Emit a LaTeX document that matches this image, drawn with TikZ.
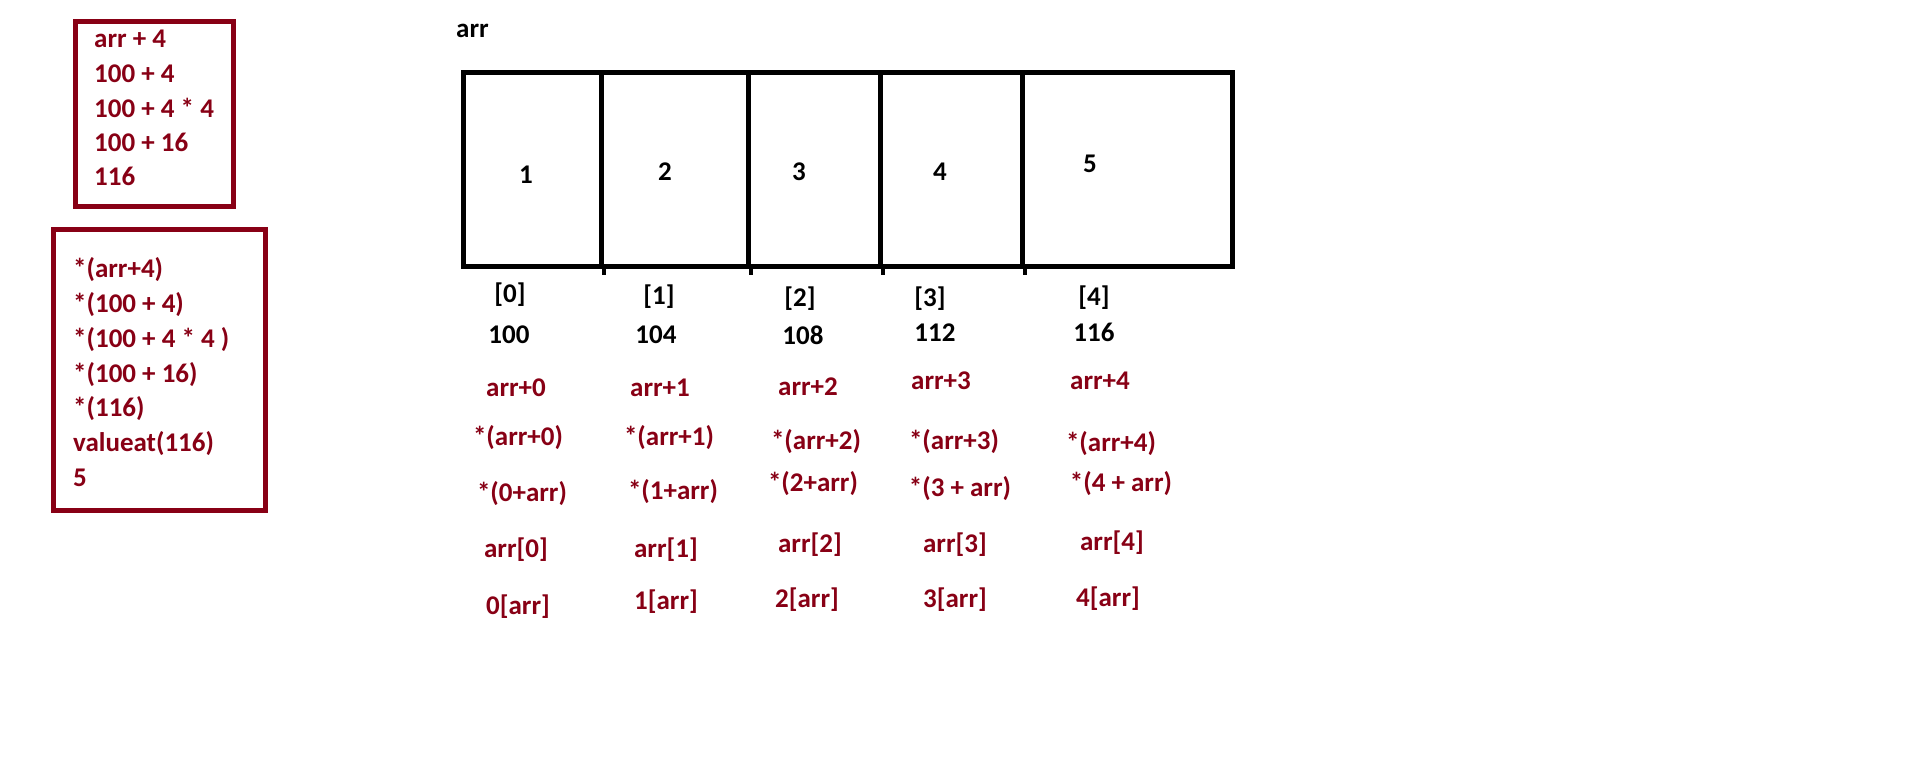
\documentclass[tikz,border=0pt]{standalone}
\usepackage{fontspec}
\setmainfont{Carlito}
\definecolor{paintred}{HTML}{880015}
\begin{document}
\begin{tikzpicture}[x=1pt,y=-1pt,
  lbl/.style={inner sep=0pt, anchor=base, font=\fontsize{27}{32}\selectfont\bfseries},
  blk/.style={lbl, text=black},
  rlbl/.style={lbl, text=paintred},
  rleft/.style={rlbl, anchor=base west},
  cell/.style={draw=black, line width=5pt, minimum height=194pt, inner sep=0pt},
  frame/.style={draw=paintred, line width=5pt, inner sep=0pt},
  tick/.style={draw=black, line width=4pt}
]
\useasboundingbox[fill=white] (0,0) rectangle (1910,772);

% left boxes
\node[frame, minimum width=158pt, minimum height=185pt] (f1) at (154.5,114) {};
\node[frame, minimum width=212pt, minimum height=281pt] (f2) at (159.5,370) {};

\node[rleft] (a1) at (94,47) {arr + 4};
\node[rleft] (a2) at (94,82) {100 + 4};
\node[rleft] (a3) at (94,117) {100 + 4 * 4};
\node[rleft] (a4) at (94,151) {100 + 16};
\node[rleft] (a5) at (94,185) {116};

\node[rleft] (b1) at (73,277) {*(arr+4)};
\node[rleft] (b2) at (73,312) {*(100 + 4)};
\node[rleft] (b3) at (73,347) {*(100 + 4 * 4 )};
\node[rleft] (b4) at (73,382) {*(100 + 16)};
\node[rleft] (b5) at (73,416) {*(116)};
\node[rleft] (b6) at (73,451) {valueat(116)};
\node[rleft] (b7) at (73,486) {5};

% array
\node[blk, anchor=base west] (arrname) at (456,37) {arr};
\node[cell, minimum width=137.5pt] (c0) at (532.25,169.5) {};
\node[cell, minimum width=147pt] (c1) at (674.5,169.5) {};
\node[cell, minimum width=132pt] (c2) at (814,169.5) {};
\node[cell, minimum width=142pt] (c3) at (951,169.5) {};
\node[cell, minimum width=210.5pt] (c4) at (1127.25,169.5) {};
\coordinate (t0) at ([yshift=-6pt]c0.south east);
\coordinate (t1) at ([yshift=-6pt]c1.south east);
\coordinate (t2) at ([yshift=-6pt]c2.south east);
\coordinate (t3) at ([yshift=-6pt]c3.south east);
\draw[tick] (c0.south east) -- (t0);
\draw[tick] (c1.south east) -- (t1);
\draw[tick] (c2.south east) -- (t2);
\draw[tick] (c3.south east) -- (t3);

\node[blk] (v0) at (526,183) {1};
\node[blk] (v1) at (665,180) {2};
\node[blk] (v2) at (799,180) {3};
\node[blk] (v3) at (940,180) {4};
\node[blk] (v4) at (1090,172) {5};

% indices
\node[blk] (i0) at (510,302) {[0]};
\node[blk] (i1) at (659,304) {[1]};
\node[blk] (i2) at (800,306) {[2]};
\node[blk] (i3) at (930,306) {[3]};
\node[blk] (i4) at (1094,305) {[4]};

% addresses
\node[blk] (d0) at (509,343) {100};
\node[blk] (d1) at (656,343) {104};
\node[blk] (d2) at (803,344) {108};
\node[blk] (d3) at (935,341) {112};
\node[blk] (d4) at (1094,341) {116};

% arr+k
\node[rlbl] (p0) at (516,396) {arr+0};
\node[rlbl] (p1) at (660,396) {arr+1};
\node[rlbl] (p2) at (808,395) {arr+2};
\node[rlbl] (p3) at (941,389) {arr+3};
\node[rlbl] (p4) at (1100,389) {arr+4};

% *(arr+k)
\node[rlbl] (q0) at (518,445) {*(arr+0)};
\node[rlbl] (q1) at (669,445) {*(arr+1)};
\node[rlbl] (q2) at (816,449) {*(arr+2)};
\node[rlbl] (q3) at (954,449) {*(arr+3)};
\node[rlbl] (q4) at (1111,451) {*(arr+4)};

% *(k+arr)
\node[rlbl] (r0) at (522,501) {*(0+arr)};
\node[rlbl] (r1) at (673,499) {*(1+arr)};
\node[rlbl] (r2) at (813,491) {*(2+arr)};
\node[rlbl] (r3) at (960,496) {*(3 + arr)};
\node[rlbl] (r4) at (1121,491) {*(4 + arr)};

% arr[k]
\node[rlbl] (s0) at (516,557) {arr[0]};
\node[rlbl] (s1) at (666,557) {arr[1]};
\node[rlbl] (s2) at (810,552) {arr[2]};
\node[rlbl] (s3) at (955,552) {arr[3]};
\node[rlbl] (s4) at (1112,550) {arr[4]};

% k[arr]
\node[rlbl] (u0) at (518,614) {0[arr]};
\node[rlbl] (u1) at (666,609) {1[arr]};
\node[rlbl] (u2) at (807,607) {2[arr]};
\node[rlbl] (u3) at (955,607) {3[arr]};
\node[rlbl] (u4) at (1108,606) {4[arr]};
\end{tikzpicture}
\end{document}
